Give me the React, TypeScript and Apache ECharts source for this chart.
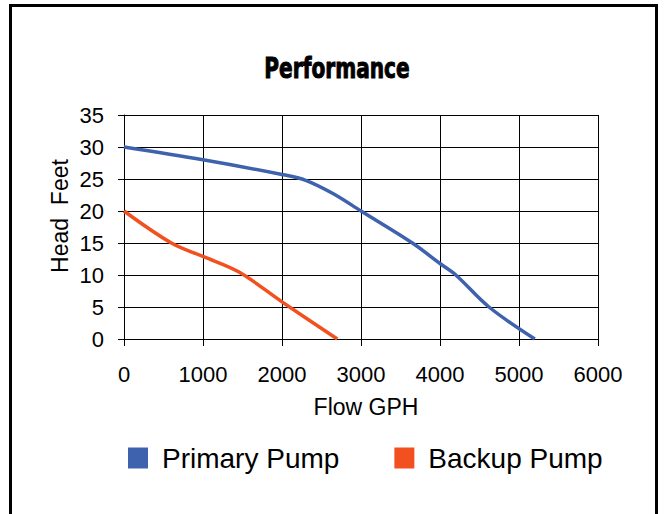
import React, { useEffect, useRef } from "react";
import * as echarts from "echarts";

const primaryPump: [number, number][] = [
  [0, 30], [1000, 28], [2000, 25.7], [2300, 24.8], [2650, 22.7], [3000, 20],
  [3650, 15], [4000, 11.8], [4200, 10], [4620, 5], [5200, 0],
];
const backupPump: [number, number][] = [
  [0, 20], [600, 15], [1000, 12.9], [1450, 10.5], [2000, 5.8], [2700, 0],
];
const seriesNames = ["Primary Pump", "Backup Pump"];
const seriesColors = ["#3E62AE", "#F2501F"];
const titleText = "Performance";
const xAxisTitle = "Flow GPH";
const yAxisTitle = "Head  Feet";

export default function App() {
  const ref = useRef<HTMLDivElement>(null);
  useEffect(() => {
    document.body.style.margin = "0";
    const chart = echarts.init(ref.current!, null, { renderer: "svg" });
    const font = "Liberation Sans, Arial, sans-serif";
    chart.setOption({
      animation: false,
      backgroundColor: "#fff",
      grid: { left: 124, top: 115, width: 474, height: 224 },
      xAxis: {
        type: "value",
        min: 0,
        max: 6000,
        interval: 1000,
        name: xAxisTitle,
        nameLocation: "middle",
        nameGap: 56,
        nameTextStyle: { color: "#000", fontSize: 23, fontFamily: font, padding: [0, 0, 0, 10] },
        axisLine: { show: true, lineStyle: { color: "#000", width: 1 } },
        axisTick: { show: true, length: 7, lineStyle: { color: "#000" } },
        axisLabel: {
          color: "#000",
          fontSize: 22,
          fontFamily: font,
          margin: 24,
          formatter: (v: number) => String(v),
        },
        splitLine: { show: true, lineStyle: { color: "#000", width: 1 } },
      },
      yAxis: {
        type: "value",
        min: 0,
        max: 35,
        interval: 5,
        axisLine: { show: true, lineStyle: { color: "#000", width: 1 } },
        axisTick: { show: true, length: 6, lineStyle: { color: "#000" } },
        axisLabel: { color: "#000", fontSize: 22, fontFamily: font, margin: 20 },
        splitLine: { show: true, lineStyle: { color: "#000", width: 1 } },
      },
      legend: {
        left: 128,
        top: 444,
        padding: 0,
        itemWidth: 20,
        itemHeight: 21,
        itemGap: 55,
        icon: "rect",
        textStyle: { color: "#000", fontSize: 28, fontFamily: font, padding: [0, 0, 0, 9] },
        data: seriesNames,
      },
      graphic: [
        {
          type: "rect",
          shape: { x: 10.5, y: 5.5, width: 646, height: 600 },
          style: { fill: "none", stroke: "#000", lineWidth: 3 },
          silent: true,
        },
        {
          type: "text",
          x: 337,
          y: 68,
          scaleX: 0.72,
          style: {
            text: titleText,
            fontSize: 28,
            fontWeight: "bold",
            fontFamily: "DejaVu Sans",
            fill: "#000",
            stroke: "#000",
            lineWidth: 1,
            textAlign: "center",
            textVerticalAlign: "middle",
          },
        },
        {
          type: "text",
          x: 60,
          y: 216,
          rotation: Math.PI / 2,
          style: {
            text: yAxisTitle,
            fontSize: 23,
            fontFamily: font,
            fill: "#000",
            textAlign: "center",
            textVerticalAlign: "middle",
          },
        },
      ],
      series: [
        {
          name: seriesNames[0],
          type: "line",
          data: primaryPump,
          smooth: 0.35,
          showSymbol: false,
          symbol: "none",
          color: seriesColors[0],
          lineStyle: { width: 3.5, color: seriesColors[0] },
        },
        {
          name: seriesNames[1],
          type: "line",
          data: backupPump,
          smooth: 0.35,
          showSymbol: false,
          symbol: "none",
          color: seriesColors[1],
          lineStyle: { width: 3.5, color: seriesColors[1] },
        },
      ],
    });
    return () => chart.dispose();
  }, []);
  return <div ref={ref} style={{ width: 665, height: 514 }} />;
}
